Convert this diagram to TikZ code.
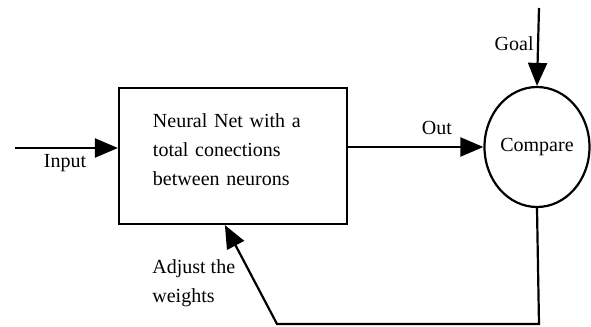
\documentclass[tikz,border=0pt]{standalone}
\usepackage{fontspec}
\setmainfont{Liberation Serif}
\usetikzlibrary{calc, arrows.meta, shapes.geometric}

\begin{document}
\begin{tikzpicture}[
  x=0.5pt, y=-0.5pt,
  block/.style={draw, line width=1.1pt, minimum width=114pt, minimum height=68pt,
    inner sep=0pt},
  cmpnode/.style={draw, ellipse, line width=1.1pt, minimum width=52.5pt,
    minimum height=60pt, inner sep=0pt, font=\fontsize{10}{12}\selectfont},
  lbl/.style={font=\fontsize{10}{14.5}\selectfont, inner sep=1pt},
  arw/.style={-{Triangle[length=11.5pt,width=9.5pt]}, line width=1.1pt},
]
\useasboundingbox (0,0) rectangle (591,327);

\node[block] (net) at (233,156) {};
\node[lbl, align=left, text width=78pt] (nettxt) at (231,150)
  {Neural Net with a\\total conections\\between neurons};
\node[cmpnode] (cmp) at (537,147) {Compare};

\coordinate (in) at (15,148);
\coordinate (goal) at (539,8);
\coordinate (fb1) at (539,324);
\coordinate (fb2) at (277,324);

\draw[arw] (in) -- (net.west |- in);
\draw[arw] (net.east |- cmp.west) -- (cmp.west);
\draw[arw] (goal) -- (cmp.north);
\draw[arw] (cmp.south) -- (fb1) -- (fb2) -- ($(net.south west)+(107,0)$);

\node[lbl] (inlbl) at (65,163) {Input};
\node[lbl] (outlbl) at (437,128) {Out};
\node[lbl, anchor=east] (goallbl) at (536,44) {Goal};
\node[lbl, align=left, anchor=north west] (adjlbl) at (150,257)
  {Adjust the\\weights};
\end{tikzpicture}
\end{document}
